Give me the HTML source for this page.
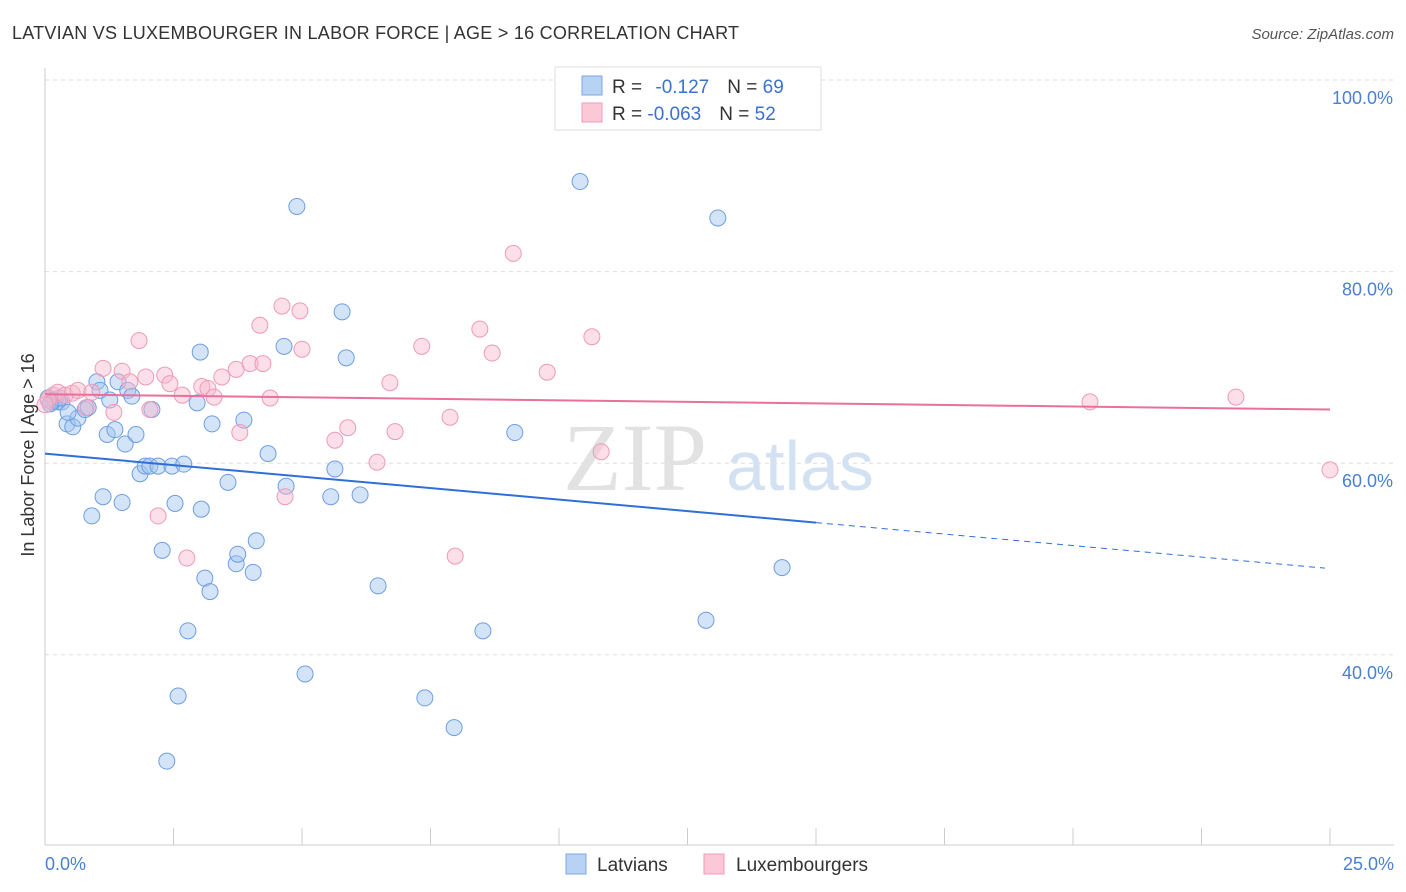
<!DOCTYPE html>
<html><head><meta charset="utf-8"><style>
body{margin:0;background:#fff;font-family:"Liberation Sans",sans-serif;}
svg{display:block}
</style></head><body>
<svg id="c" width="1406" height="892">
<text x="12" y="39" font-size="18" fill="#333" textLength="727" lengthAdjust="spacing">LATVIAN VS LUXEMBOURGER IN LABOR FORCE | AGE &gt; 16 CORRELATION CHART</text>
<text x="1394" y="39" font-size="15" fill="#555" font-style="italic" text-anchor="end">Source: ZipAtlas.com</text>
<g id="grid"></g>
<text x="635" y="490" font-size="96" fill="#e2e2e2" font-family="Liberation Serif,serif" text-anchor="middle">ZIP</text>
<text x="800" y="490" font-size="70" fill="#d3e2f3" text-anchor="middle">atlas</text>
<g id="marks"></g>
<text transform="translate(34,455) rotate(-90)" font-size="18" fill="#333" text-anchor="middle">In Labor Force | Age &gt; 16</text>
<text x="45" y="870" font-size="18" fill="#4a7fd4">0.0%</text>
<text x="1394" y="870" font-size="18" fill="#4a7fd4" text-anchor="end">25.0%</text>
<g>
<rect x="555" y="67" width="266" height="63" fill="#fff" stroke="#ddd"/>
<rect x="582" y="76" width="20" height="19" fill="#b8d2f4" stroke="#7aa7e6"/>
<rect x="582" y="103" width="20" height="19" fill="#fbc8d8" stroke="#f09ab8"/>
<text x="612" y="93" font-size="19" fill="#333">R = <tspan fill="#3a72d0" dx="8">-0.127</tspan><tspan dx="18" fill="#333">N = </tspan><tspan fill="#3a72d0">69</tspan></text>
<text x="612" y="120" font-size="19" fill="#333">R = <tspan fill="#3a72d0">-0.063</tspan><tspan dx="18" fill="#333">N = </tspan><tspan fill="#3a72d0">52</tspan></text>
</g>
<g>
<rect x="566" y="854" width="20" height="20" fill="#b8d2f4" stroke="#7aa7e6"/>
<text x="597" y="871" font-size="19" fill="#333">Latvians</text>
<rect x="704" y="854" width="20" height="20" fill="#fbc8d8" stroke="#f09ab8"/>
<text x="736" y="871" font-size="19" fill="#333">Luxembourgers</text>
</g>
</svg>
<script>
const yTicks=[100,80,60,40];
const yTickLabels=["100.0%","80.0%","60.0%","40.0%"];
const xTicks=[0,2.5,5,7.5,10,12.5,15,17.5,20,22.5,25];
const latX=[0.14,0.25,0.33,0.06,0.43,0.54,0.64,0.45,0.78,0.84,1.01,1.07,1.21,1.26,1.42,1.36,1.56,1.61,1.69,1.77,0.91,1.13,1.50,1.85,1.95,2.04,2.20,2.08,2.28,2.53,2.47,2.70,2.78,2.59,2.37,2.96,3.02,3.04,3.11,3.21,3.25,3.56,3.72,3.75,3.87,4.05,4.11,4.34,4.65,4.69,4.90,5.06,5.56,5.64,5.78,5.86,6.13,6.48,7.39,7.96,8.52,9.14,10.41,12.86,13.09,14.34,0.19,0.29,0.10];
const latY=[66.4,66.4,66.4,66.8,64.1,63.8,64.7,65.3,65.6,65.8,68.5,67.6,63.0,66.6,68.5,63.5,62.0,67.6,67.0,63.0,54.5,56.5,55.9,58.9,59.7,59.7,59.7,65.6,50.9,55.8,59.7,59.9,42.5,35.7,28.9,66.3,71.6,55.2,48.0,46.6,64.1,58.0,49.5,50.5,64.5,48.6,51.9,61.0,72.2,57.6,86.8,38.0,56.5,59.4,75.8,71.0,56.7,47.2,35.5,32.4,42.5,63.2,89.4,43.6,85.6,49.1,66.6,66.8,66.2];
const luxX=[0.16,0.25,0.39,0.53,0.64,0.80,0.91,1.13,1.34,1.50,1.65,1.83,1.96,2.04,2.20,2.33,2.43,2.76,2.67,3.05,3.17,3.29,3.44,3.72,3.79,3.99,4.18,4.24,4.38,4.61,4.67,4.96,5.00,5.64,5.89,6.46,6.71,6.81,7.33,7.88,7.98,8.46,8.70,9.11,9.77,10.64,10.82,20.33,23.17,25.0,0.06,0.0];
const luxY=[67.1,67.4,67.1,67.3,67.6,65.8,67.4,69.9,65.3,69.6,68.5,72.8,69.0,65.6,54.5,69.2,68.3,50.1,67.1,68.0,67.8,66.9,69.0,69.8,63.2,70.4,74.4,70.4,66.8,76.4,56.5,75.9,71.9,62.4,63.7,60.1,68.4,63.3,72.2,64.8,50.3,74.0,71.5,81.9,69.5,73.2,61.2,66.4,66.9,59.3,66.6,66.1];
const latTrend=[61.0,49.0];
const luxTrend=[67.2,65.6];
const X=v=>45+v*51.4, Y=v=>80+(100-v)*9.58;
const NS="http://www.w3.org/2000/svg";
function mk(t,a,p){const e=document.createElementNS(NS,t);for(const k in a)e.setAttribute(k,a[k]);p.appendChild(e);return e;}
const g=document.getElementById('grid'), m=document.getElementById('marks');
yTicks.forEach((t,i)=>{
 const l=mk('line',{x1:45,x2:1394,y1:Y(t),y2:Y(t),stroke:'#ddd','stroke-dasharray':'4,4'},g);
 
 
 const tx=mk('text',{x:1393,y:Y(t)+24,'font-size':18,fill:'#4a7fd4','text-anchor':'end'},g);
 tx.textContent=yTickLabels[i];
 
 
});
const ax=mk('line',{x1:45,x2:45,y1:68,y2:845,stroke:'#ccc'},g);


const bx=mk('line',{x1:45,x2:1394,y1:845,y2:845,stroke:'#ccc'},g);


xTicks.forEach(t=>{
 const l=mk('line',{x1:X(t),x2:X(t),y1:828,y2:845,stroke:'#ccc'},g);
 
 
});
latX.forEach((v,i)=>{
 const c=mk('circle',{cx:X(v),cy:Y(latY[i]),r:8,fill:'rgba(160,195,240,0.45)',stroke:'#6e9ee0','stroke-width':1},m);
 
 
});
luxX.forEach((v,i)=>{
 const c=mk('circle',{cx:X(v),cy:Y(luxY[i]),r:8,fill:'rgba(248,185,205,0.45)',stroke:'#ee9ab8','stroke-width':1},m);
 
 
});
const lt=v=>latTrend[0]+(latTrend[1]-latTrend[0])*v/25;
const l1=mk('line',{x1:X(0),y1:Y(lt(0)),x2:X(15),y2:Y(lt(15)),stroke:'#2f6fd6','stroke-width':2},m);


const l2=mk('line',{x1:X(15),y1:Y(lt(15)),x2:X(24.9),y2:Y(lt(24.9)),stroke:'#2f6fd6','stroke-width':1,'stroke-dasharray':'6,5'},m);


const l3=mk('line',{x1:X(0),y1:Y(luxTrend[0]),x2:X(25),y2:Y(luxTrend[1]),stroke:'#e8709a','stroke-width':2},m);


</script>
</body></html>
